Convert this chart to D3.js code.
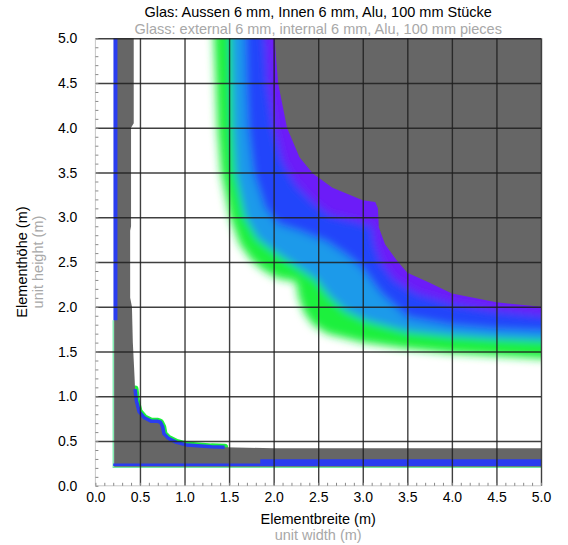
<!DOCTYPE html>
<html>
<head>
<meta charset="utf-8">
<script src="https://cdn.jsdelivr.net/npm/d3@7"></script>
<style>
  body { margin: 0; background: #fff; }
  text { font-family: "Liberation Sans", Arial, sans-serif; }
</style>
</head>
<body>
<div id="chart"></div>
<script>
// Tick labels (m).
const tickValues = [0, 0.5, 1, 1.5, 2, 2.5, 3, 3.5, 4, 4.5, 5];

// Level curves of the large-unit field, [width, height] in m, top edge -> right edge.
const greenEdge = [[1.33,5],[1.35,4.5],[1.37,4.0],[1.41,3.5],[1.51,3.0],[1.62,2.7],[1.75,2.52],[1.88,2.41],[2.04,2.32],[2.25,2.28],[2.28,2.1],[2.34,1.94],[2.44,1.8],[2.6,1.7],[3.0,1.6],[3.5,1.53],[4.0,1.48],[4.5,1.45],[5.0,1.42]];
const cyanEdge = [[1.52,5],[1.53,4.5],[1.54,4.0],[1.57,3.5],[1.68,3.0],[1.82,2.76],[2.0,2.62],[2.15,2.52],[2.3,2.42],[2.48,2.3],[2.62,2.12],[2.8,1.96],[3.05,1.84],[3.5,1.72],[4.0,1.67],[4.5,1.64],[5.0,1.62]];
const blueEdge = [[1.68,5],[1.69,4.5],[1.71,4.0],[1.77,3.5],[1.9,3.1],[2.05,2.92],[2.3,2.84],[2.6,2.72],[2.85,2.55],[3.0,2.42],[3.2,2.15],[3.5,1.88],[4.0,1.79],[4.5,1.75],[5.0,1.73]];
const purpleEdge = [[1.9,5],[1.93,4.5],[2.0,4.0],[2.1,3.62],[2.25,3.36],[2.45,3.16],[2.63,3.02],[2.9,2.96],[3.1,2.9],[3.13,2.7],[3.2,2.5],[3.35,2.3],[3.6,2.15],[4.0,2.03],[4.5,1.95],[5.0,1.9]];
const grayEdge = [[2.01,5],[2.05,4.5],[2.15,4.0],[2.29,3.67],[2.44,3.49],[2.66,3.33],[3.0,3.19],[3.14,3.17],[3.17,3.1],[3.18,2.89],[3.25,2.7],[3.38,2.52],[3.5,2.38],[3.75,2.27],[4.0,2.15],[4.5,2.05],[5.0,2.0]];

// Small-unit region (L shaped strip along the axes).
const stripOuter = [[0.21,5.05],[0.21,0.21],[5.05,0.21],[5.05,0.42],[2.0,0.42]];
const innerEdge = [[1.45,0.43],[1.3,0.435],[1.03,0.455],[0.91,0.485],[0.82,0.53],[0.77,0.58],[0.755,0.66],[0.73,0.71],[0.7,0.72],[0.63,0.72],[0.55,0.76],[0.49,0.83],[0.46,0.95],[0.445,1.08]];
const columnEdge = [[0.44,1.2],[0.43,1.4],[0.42,1.6],[0.415,1.8],[0.41,2.0],[0.39,2.1],[0.39,2.85],[0.40,2.9],[0.40,4.0],[0.43,4.05],[0.43,5.05]];
const leftLine = [[0.225,5.05],[0.225,1.85]];
const bottomLine = [[0.2,0.235],[5.05,0.235]];
const bottomBand = [[1.85,0.268],[5.05,0.268]];
const outerFringe = [[0.2,1.85],[0.2,0.205],[5.05,0.205]];

const colors = {
  green: '#1cf03c',
  cyan: '#1c9aea',
  blue: '#2444fa',
  purple: '#6c1ff8',
  gray: '#666666',
  line: '#2a3cf0'
};

// Dimensions.
const W = 568, H = 545;
const plot = { left: 95.4, right: 541, top: 38.3, bottom: 485.8 };

const x = d3.scaleLinear().domain([0, 5]).range([plot.left, plot.right]);
const y = d3.scaleLinear().domain([0, 5]).range([plot.bottom, plot.top]);

const line = d3.line().x(d => x(d[0])).y(d => y(d[1]));

// Region beyond a curve (towards the top-right corner), extended past the frame.
function beyond(curve) {
  const first = curve[0], last = curve[curve.length - 1];
  return [[first[0], 5.6], ...curve, [5.6, last[1]], [5.6, 5.6]];
}

const svg = d3.select('#chart').append('svg')
  .attr('width', W).attr('height', H);

svg.append('rect').attr('width', W).attr('height', H).attr('fill', '#fff');

const defs = svg.append('defs');
defs.append('clipPath').attr('id', 'plotClip')
  .append('rect')
  .attr('x', plot.left).attr('y', plot.top)
  .attr('width', plot.right - plot.left).attr('height', plot.bottom - plot.top);

defs.append('filter').attr('id', 'soft')
  .attr('filterUnits', 'userSpaceOnUse')
  .attr('x', 0).attr('y', 0).attr('width', W).attr('height', H)
  .append('feGaussianBlur').attr('stdDeviation', 4.5);

defs.append('filter').attr('id', 'edge')
  .attr('filterUnits', 'userSpaceOnUse')
  .attr('x', 0).attr('y', 0).attr('width', W).attr('height', H)
  .append('feGaussianBlur').attr('stdDeviation', 0.6);

const field = svg.append('g').attr('clip-path', 'url(#plotClip)');

// Colour bands.
const bands = [
  { edge: greenEdge, color: colors.green },
  { edge: cyanEdge, color: colors.cyan },
  { edge: blueEdge, color: colors.blue },
  { edge: purpleEdge, color: colors.purple }
];

field.append('g').attr('filter', 'url(#soft)')
  .selectAll('path')
  .data(bands)
  .enter()
  .append('path')
  .attr('d', d => line(beyond(d.edge)) + 'Z')
  .attr('fill', d => d.color);

field.append('path')
  .attr('d', line(beyond(grayEdge)) + 'Z')
  .attr('fill', colors.gray);

// Small units.
const small = field.append('g').attr('filter', 'url(#edge)');

small.append('path')
  .attr('d', line(innerEdge))
  .attr('fill', 'none')
  .attr('stroke', colors.green)
  .attr('stroke-width', 7)
  .attr('stroke-linecap', 'round')
  .attr('stroke-linejoin', 'round');

small.append('path')
  .attr('d', line(stripOuter.concat(innerEdge, columnEdge)) + 'Z')
  .attr('fill', colors.gray);

small.append('path')
  .attr('d', line(innerEdge))
  .attr('fill', 'none')
  .attr('stroke', colors.line)
  .attr('stroke-width', 3.5)
  .attr('stroke-linejoin', 'round');

small.append('path')
  .attr('d', line(outerFringe))
  .attr('fill', 'none')
  .attr('stroke', '#6fe8a6')
  .attr('stroke-width', 1.3);

[[leftLine, 4], [bottomLine, 2.5], [bottomBand, 5]].forEach(([pts, w]) => {
  small.append('path')
    .attr('d', line(pts))
    .attr('fill', 'none')
    .attr('stroke', colors.line)
    .attr('stroke-width', w);
});

// Grid.
const gridVals = tickValues.filter(v => v > 0);
svg.append('g')
  .attr('class', 'grid')
  .attr('transform', `translate(0, ${plot.bottom})`)
  .call(d3.axisBottom(x).tickValues(gridVals).tickSize(-(plot.bottom - plot.top)).tickFormat(''))
  .call(g => g.select('.domain').remove());
svg.append('g')
  .attr('class', 'grid')
  .attr('transform', `translate(${plot.left}, 0)`)
  .call(d3.axisLeft(y).tickValues(gridVals).tickSize(-(plot.right - plot.left)).tickFormat(''))
  .call(g => g.select('.domain').remove());
svg.selectAll('.grid line')
  .attr('stroke', '#1e1e1e')
  .attr('stroke-opacity', 0.85)
  .attr('stroke-width', 1.4);

// Frame: light on the axis sides.
svg.append('path')
  .attr('d', `M${plot.left},${plot.top}V${plot.bottom}H${plot.right}`)
  .attr('fill', 'none')
  .attr('stroke', '#c8c8c8')
  .attr('stroke-width', 1);

// Minor ticks.
const minor = d3.range(0, 50.5, 1).map(i => i / 10);
svg.append('g')
  .attr('transform', `translate(0, ${plot.bottom})`)
  .call(d3.axisTop(x).tickValues(minor).tickSize(3).tickFormat(''))
  .call(g => g.select('.domain').remove())
  .selectAll('line').attr('stroke', '#888');
svg.append('g')
  .attr('transform', `translate(${plot.left}, 0)`)
  .call(d3.axisRight(y).tickValues(minor).tickSize(3).tickFormat(''))
  .call(g => g.select('.domain').remove())
  .selectAll('line').attr('stroke', '#888');

// Tick labels.
const fmt = d3.format('.1f');
svg.append('g')
  .attr('transform', `translate(0, ${plot.bottom})`)
  .call(d3.axisBottom(x).tickValues(tickValues).tickSize(0).tickPadding(6).tickFormat(fmt))
  .call(g => g.select('.domain').remove())
  .selectAll('text')
  .attr('fill', '#000')
  .style('font-size', '14px')
  .style('font-family', '"Liberation Sans", Arial, sans-serif');
svg.append('g')
  .attr('transform', `translate(${plot.left - 18}, 0)`)
  .call(d3.axisLeft(y).tickValues(tickValues).tickSize(0).tickPadding(0).tickFormat(fmt))
  .call(g => g.select('.domain').remove())
  .selectAll('text')
  .attr('fill', '#000')
  .style('font-size', '14px')
  .style('font-family', '"Liberation Sans", Arial, sans-serif');

// Titles.
const cx = (plot.left + plot.right) / 2;
const cy = (plot.top + plot.bottom) / 2;
svg.append('text').attr('x', cx).attr('y', 17)
  .attr('text-anchor', 'middle').style('font-size', '14.5px').attr('fill', '#000')
  .text('Glas: Aussen 6 mm, Innen 6 mm, Alu, 100 mm Stücke');
svg.append('text').attr('x', cx).attr('y', 34)
  .attr('text-anchor', 'middle').style('font-size', '14.5px').attr('fill', '#a8a8a8')
  .text('Glass: external 6 mm, internal 6 mm, Alu, 100 mm pieces');

svg.append('text').attr('x', cx).attr('y', 524)
  .attr('text-anchor', 'middle').style('font-size', '14.5px').attr('fill', '#000')
  .text('Elementbreite (m)');
svg.append('text').attr('x', cx).attr('y', 540)
  .attr('text-anchor', 'middle').style('font-size', '14.5px').attr('fill', '#a8a8a8')
  .text('unit width (m)');

svg.append('text')
  .attr('transform', `translate(27, ${cy}) rotate(-90)`)
  .attr('text-anchor', 'middle').style('font-size', '14.5px').attr('fill', '#000')
  .text('Elementhöhe (m)');
svg.append('text')
  .attr('transform', `translate(43, ${cy}) rotate(-90)`)
  .attr('text-anchor', 'middle').style('font-size', '14.5px').attr('fill', '#a8a8a8')
  .text('unit height (m)');
</script>
</body>
</html>
